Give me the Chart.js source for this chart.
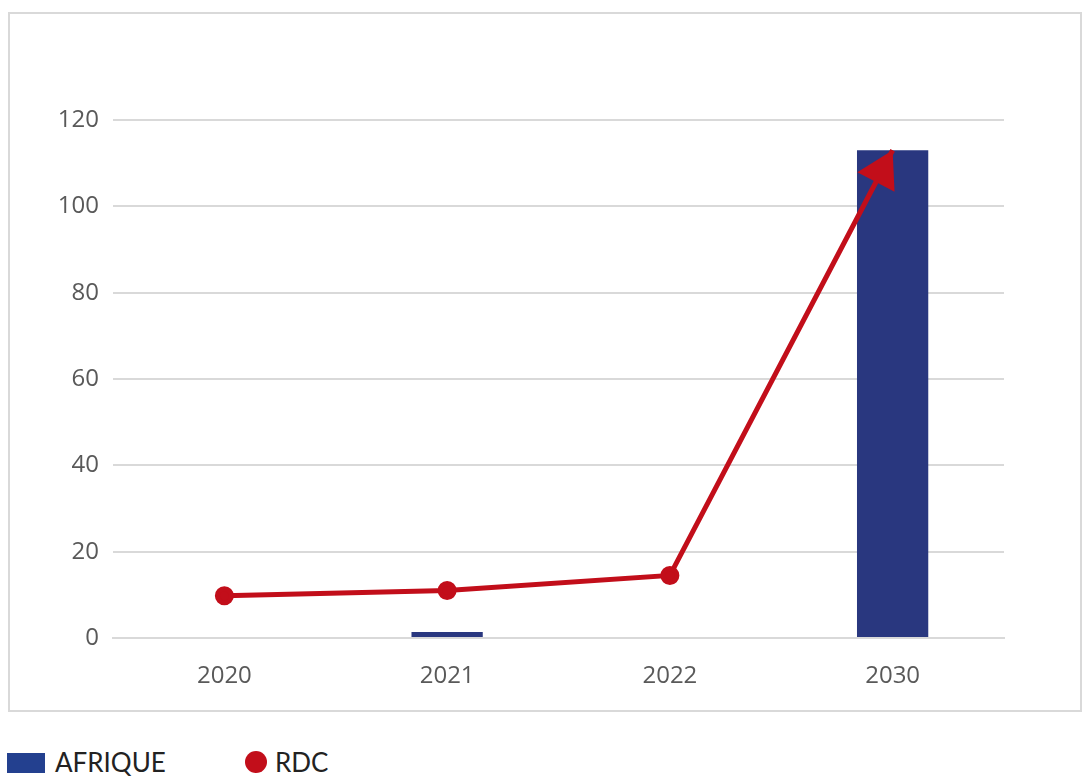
<!DOCTYPE html>
<html lang="fr">

<head>
    <meta charset="UTF-8" />
    <title>Afrique / RDC</title>
    <script src="https://cdn.jsdelivr.net/npm/chart.js"></script>
    <style>
        body {
            margin: 0;
            background: #fff;
            width: 1083px;
            height: 776px;
            position: relative;
            overflow: hidden;
            font-family: "Open Sans", sans-serif;
        }

        .frame {
            position: absolute;
            left: 8px;
            top: 12px;
            width: 1070px;
            height: 696px;
            border: 2px solid #d9d9d9;
        }

        .chart-wrap {
            position: absolute;
            left: 0;
            top: 0;
            width: 1083px;
            height: 720px;
        }

        .legend {
            position: absolute;
            top: 746px;
            left: 0;
            font-family: Lato, "Open Sans", sans-serif;
            font-size: 26px;
            color: #222;
        }

        .legend span {
            position: absolute;
            white-space: nowrap;
            line-height: 32px;
        }

        .sw-bar {
            position: absolute;
            left: 7px;
            top: 7px;
            width: 38px;
            height: 20px;
            background: #23408f;
        }

        .sw-dot {
            position: absolute;
            left: 245px;
            top: 5px;
            width: 22px;
            height: 22px;
            border-radius: 50%;
            background: #c20e1a;
        }
    </style>
</head>

<body>
    <div class="frame"></div>
    <div class="chart-wrap"><canvas id="chart"></canvas></div>

    <div class="legend">
        <div class="sw-bar"></div>
        <span style="left:55px">AFRIQUE</span>
        <div class="sw-dot"></div>
        <span style="left:275px">RDC</span>
    </div>

    <script>
        const years = ["2020", "2021", "2022", "2030"];
        const afrique = [0, 1.4, 0, 113];
        const rdc = [9.8, 11, 14.5, 113];
        const yTicks = [0, 20, 40, 60, 80, 100, 120];

        const red = "#c20e1a";
        const navy = "#29377f";

        // arrow head on the last point of the RDC line
        const arrowHead = {
            id: "arrowHead",
            afterDatasetsDraw(chart) {
                const meta = chart.getDatasetMeta(1);
                const pts = meta.data;
                const a = pts[pts.length - 2], b = pts[pts.length - 1];
                const dx = b.x - a.x, dy = b.y - a.y;
                const len = Math.hypot(dx, dy);
                const ux = dx / len, uy = dy / len;
                const L = 36, W = 21;
                const ctx = chart.ctx;
                ctx.save();
                ctx.fillStyle = red;
                ctx.beginPath();
                ctx.moveTo(b.x, b.y);
                ctx.lineTo(b.x - ux * L - uy * W, b.y - uy * L + ux * W);
                ctx.lineTo(b.x - ux * L + uy * W, b.y - uy * L - ux * W);
                ctx.closePath();
                ctx.fill();
                ctx.restore();
            }
        };

        new Chart(document.getElementById("chart"), {
            data: {
                labels: years,
                datasets: [{
                    type: "bar",
                    label: "AFRIQUE",
                    data: afrique,
                    backgroundColor: navy,
                    categoryPercentage: 1,
                    barPercentage: 0.32,
                    order: 2
                }, {
                    type: "line",
                    label: "RDC",
                    data: rdc,
                    borderColor: red,
                    backgroundColor: red,
                    borderWidth: 5,
                    pointRadius: [7, 7, 7, 0],
                    pointHoverRadius: 0,
                    tension: 0,
                    order: 1
                }]
            },
            options: {
                responsive: true,
                maintainAspectRatio: false,
                animation: false,
                layout: { padding: { left: 0, top: 120, right: 79, bottom: 0 } },
                plugins: {
                    legend: { display: false },
                    tooltip: { enabled: false }
                },
                scales: {
                    x: {
                        afterFit(scale) { scale.height = 82; },
                        grid: { display: false, drawTicks: false },
                        border: { color: "#d9d9d9", width: 2 },
                        ticks: {
                            padding: 24,
                            color: "#595959",
                            font: { family: "Open Sans", size: 24 }
                        }
                    },
                    y: {
                        min: 0,
                        max: 120,
                        afterFit(scale) { scale.width = 113; },
                        afterBuildTicks(scale) {
                            scale.ticks = yTicks.map(v => ({ value: v }));
                        },
                        grid: { color: "#d9d9d9", lineWidth: 2, drawTicks: false },
                        border: { display: false },
                        ticks: {
                            padding: 14,
                            color: "#595959",
                            font: { family: "Open Sans", size: 24 }
                        }
                    }
                }
            },
            plugins: [arrowHead]
        });
    </script>
</body>

</html>
